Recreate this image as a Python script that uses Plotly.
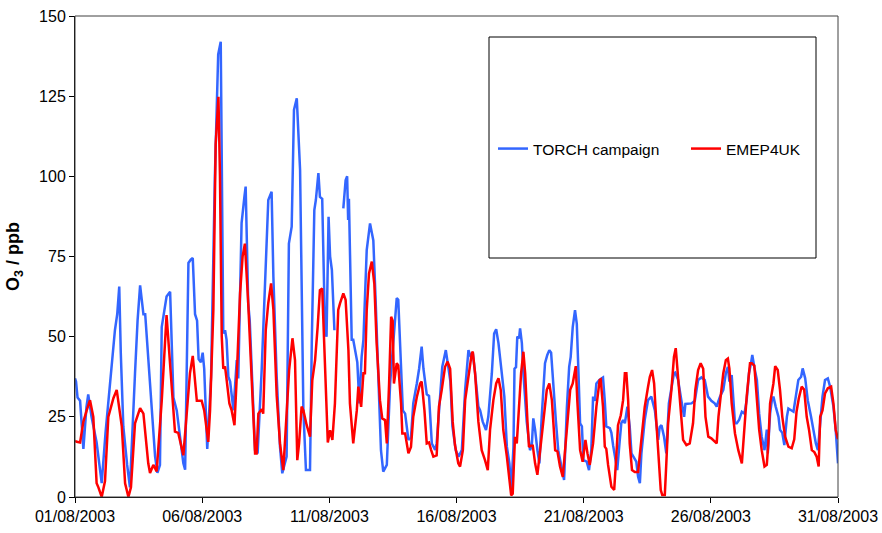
import pandas as pd
import plotly.graph_objects as go

START = pd.Timestamp("2003-08-01")

# Observed ozone (TORCH campaign): time in days since 01/08/2003 00:00, O3 in ppb.
# None marks a gap in the measurements.
torch_day = [
    0.00, 0.04, 0.10, 0.20, 0.33, 0.45, 0.52, 0.65, 0.85, 1.05, 1.20, 1.38, 1.57, 1.66, 1.74, 1.80,
    1.90, 2.05, 2.16, 2.36, 2.46, 2.56, 2.69, 2.76, 2.88, 3.02, 3.15, 3.24, 3.34, 3.41, 3.60, 3.74,
    3.87, 4.00, 4.26, 4.33, 4.46, 4.55, 4.63, 4.72, 4.80, 4.86, 4.95, 5.02, 5.08, 5.20, 5.35, 5.50,
    5.63, 5.73, 5.79, 5.83, 5.90, 5.96, 6.03, 6.10, 6.23, 6.36, 6.42, 6.55, 6.66, 6.71, 6.81, 6.87,
    7.08, 7.18, 7.34, 7.47, 7.60, 7.73, 7.80, 7.93, 8.06, 8.15, 8.32, 8.41, 8.52, 8.61, 8.72, 8.85,
    8.98, 9.08, 9.24, 9.31, 9.41, 9.47, 9.57, 9.63, 9.72, 9.83, 9.89, 9.97, 10.03, 10.10, 10.16, 10.20,
    None,
    10.55, 10.64, 10.70, 10.74, 10.77, 10.88, 10.94, 11.04, 11.10, 11.18, 11.27, 11.34, 11.47, 11.60,
    11.73, 11.82, 11.93, 12.03, 12.12, 12.26, 12.39, 12.52, 12.58, 12.65, 12.71, 12.78, 12.89, 12.98,
    13.11, 13.21, 13.30, 13.44, 13.53, 13.63, 13.70, 13.83, 13.92, 14.03, 14.16, 14.22, 14.35, 14.44,
    14.58, 14.68, 14.76, 14.84, 14.97, 15.08, 15.21, 15.34, 15.47, 15.56, 15.64, 15.73, 15.86, 15.93,
    16.03, 16.16, 16.25, 16.39, 16.48, 16.56, 16.65, 16.78, 16.88, 16.98, 17.08, 17.15, 17.24, 17.28,
    17.34, 17.39, 17.46, 17.50, 17.57, 17.63, 17.76, 17.89, 17.96, 18.02, 18.09, 18.18, 18.26, 18.35,
    18.48, 18.57, 18.65, 18.72, 18.81, 18.91, 19.00, 19.14, 19.23, 19.34, 19.43, 19.49, 19.57, 19.66,
    19.73, 19.79, 19.86, 19.93, 19.99, 20.12, 20.21, 20.30, 20.37, 20.44, 20.50, 20.63, 20.76, 20.83,
    20.89, 21.03, 21.09, 21.16, 21.25, 21.32, 21.42, 21.48, 21.55, 21.62, 21.72, 21.81, 21.88, 22.01,
    22.07, 22.14, 22.21, 22.27, 22.40, 22.53, 22.66, 22.80, 22.93, 22.99, 23.06, 23.16, 23.25, 23.35,
    23.45, 23.55, 23.60, 23.71, 23.84, 23.95, 24.00, 24.11, 24.24, 24.37, 24.50, 24.63, 24.76, 24.89,
    25.02, 25.15, 25.23, 25.30, 25.36, 25.49, 25.59, 25.67, 25.73, 25.82, 25.89, 25.95, 26.02, 26.11,
    26.22, 26.32, 26.41, 26.50, 26.58, 26.63, 26.71, 26.81, 26.90, 27.00, 27.11, 27.20, 27.24, 27.33,
    27.40, 27.46, 27.55, 27.66, 27.72, 27.81, 27.89, 27.99, 28.05, 28.16, 28.25, 28.34, 28.44, 28.55,
    28.61, 28.71, 28.81, 28.94, 29.03, 29.13, 29.21, 29.30, 29.39, 29.49, 29.60, 29.69, 29.82, 29.91,
    30.00,
]
torch_o3 = [
    37, 36, 31, 30, 15, 28, 32, 25, 17, 4.3, 20, 36.5, 52, 57, 65.6, 45,
    22, 10, 3, 38.6, 55, 66, 57, 57, 43.7, 27, 12.6, 7.5, 10, 53, 62.5, 64,
    31, 27, 10.5, 8.5, 73, 74, 74.5, 57, 55, 43, 42, 45, 40, 15, 37.5, 100,
    138, 142, 89.5, 51, 52, 49, 37.5, 36, 27, 42.7, 37, 85.4, 93.6, 96.8, 60.5, 55,
    14.6, 13.6, 39.6, 68.7, 92.6, 95.2, 68.7, 37.5, 15.7, 7.4, 12.6, 79, 84.3, 120.7, 124.3, 102,
    27, 8.4, 8.4, 48, 89.5, 92.6, 101, 93.6, 93, 52, 50, 87.4, 75, 70.8, 61.5, 52,
    None,
    90, 98.8, 100, 86.4, 93, 49, 49, 43.7, 42, 29.2, 43.7, 49, 77, 85.3,
    80, 61.4, 35.4, 14.6, 7.9, 10, 35.4, 50, 56, 62, 61.5, 46.7, 27, 26,
    17.8, 18.5, 29.2, 35.4, 40, 46.9, 40, 32, 31.5, 16.7, 14.7, 16.7, 29.2, 40.6,
    45.8, 39.7, 36, 22, 14.6, 12.6, 14.6, 33.4, 45.8, 43.7, 45, 38.6, 28.2, 27,
    23.5, 20.9, 25, 38.6, 51, 52.3, 48, 38.6, 31.4, 15.7, 10.5, 2.2, 15.6, 40,
    40.5, 50, 49.5, 52.6, 48, 38.6, 23.5, 14.6, 16, 24.5, 21, 14.6, 10.5, 25,
    41.7, 44.3, 45.8, 45, 33.4, 23.5, 14.6, 8.4, 5.3, 28, 40.6, 43.7, 53, 58.3,
    54, 40, 23, 22, 11.5, 11, 8.4, 14.6, 31.3, 30, 35.4, 36.6, 37.3, 30,
    22, 21.5, 20, 16, 11.5, 8.4, 17.8, 23, 24, 23, 28.2, 22, 13.6, 11.5,
    11, 6.3, 4.3, 13.6, 24, 30.2, 31.3, 27, 17.8, 21.8, 22.4, 18.8, 13.6, 29.2,
    33.4, 38.6, 38.8, 36.6, 30.2, 25, 29, 29, 29.2, 30, 36.5, 37.3, 36.5, 31.3,
    30, 29.2, 28.2, 30, 31.3, 33.4, 38.6, 40.6, 36, 38, 29.2, 23, 23, 24,
    26.6, 26, 30.2, 38.6, 41.7, 44.3, 40.5, 36.5, 26, 18.8, 14.6, 21, 13.6, 26,
    30.2, 31.3, 28.2, 25, 21, 20, 16.2, 25, 27.6, 27, 26.6, 31.3, 36.5, 37.5,
    40.1, 37, 30.2, 25, 21, 16.7, 14.6, 23, 31.3, 36.5, 37, 34.4, 28.2, 20.9,
    10.5,
]

# Modelled ozone (EMEP4UK): time in days since 01/08/2003 00:00, O3 in ppb.
emep_day = [
    0.00, 0.07, 0.20, 0.33, 0.46, 0.59, 0.72, 0.85, 0.92, 1.05, 1.18, 1.31, 1.51, 1.64, 1.84, 1.97,
    2.10, 2.20, 2.36, 2.56, 2.69, 2.88, 2.95, 3.08, 3.21, 3.41, 3.60, 3.80, 3.93, 4.06, 4.26, 4.52,
    4.63, 4.79, 4.98, 5.08, 5.24, 5.31, 5.44, 5.53, 5.64, 5.70, 5.77, 5.83, 5.90, 5.97, 6.07, 6.16,
    6.27, 6.36, 6.49, 6.59, 6.68, 6.81, 6.95, 7.08, 7.14, 7.21, 7.34, 7.40, 7.50, 7.60, 7.71, 7.80,
    7.93, 8.06, 8.19, 8.32, 8.42, 8.55, 8.65, 8.74, 8.81, 8.91, 8.98, 9.11, 9.24, 9.33, 9.44, 9.54,
    9.63, 9.72, 9.80, 9.87, 9.94, 10.03, 10.12, 10.22, 10.35, 10.42, 10.55, 10.64, 10.75, 10.81, 10.94,
    11.08, 11.14, 11.25, 11.34, 11.40, 11.47, 11.56, 11.67, 11.77, 11.86, 11.99, 12.08, 12.19, 12.26,
    12.35, 12.43, 12.49, 12.54, 12.65, 12.71, 12.82, 12.87, 12.98, 13.11, 13.21, 13.30, 13.44, 13.57,
    13.63, 13.74, 13.83, 13.92, 14.00, 14.09, 14.22, 14.31, 14.42, 14.55, 14.65, 14.75, 14.85, 14.94,
    15.07, 15.14, 15.25, 15.34, 15.47, 15.60, 15.64, 15.73, 15.86, 15.99, 16.12, 16.23, 16.32, 16.45,
    16.56, 16.65, 16.74, 16.84, 16.98, 17.08, 17.15, 17.21, 17.30, 17.37, 17.46, 17.54, 17.63, 17.70,
    17.79, 17.85, 17.92, 18.00, 18.09, 18.18, 18.29, 18.42, 18.55, 18.65, 18.75, 18.88, 18.97, 19.07,
    19.18, 19.27, 19.36, 19.47, 19.57, 19.69, 19.75, 19.86, 19.96, 20.07, 20.15, 20.24, 20.37, 20.50,
    20.63, 20.67, 20.76, 20.83, 20.89, 20.96, 21.09, 21.20, 21.29, 21.35, 21.46, 21.55, 21.62, 21.68,
    21.75, 21.81, 21.90, 22.01, 22.14, 22.31, 22.40, 22.53, 22.60, 22.69, 22.77, 22.86, 22.93, 23.03,
    23.09, 23.19, 23.25, 23.32, 23.45, 23.55, 23.62, 23.71, 23.82, 23.91, 24.04, 24.17, 24.30, 24.39,
    24.50, 24.60, 24.70, 24.79, 24.90, 25.02, 25.23, 25.30, 25.40, 25.49, 25.59, 25.67, 25.73, 25.82,
    25.95, 26.08, 26.22, 26.32, 26.41, 26.54, 26.61, 26.71, 26.81, 26.90, 27.00, 27.11, 27.20, 27.26,
    27.33, 27.46, 27.53, 27.63, 27.72, 27.81, 27.92, 28.05, 28.18, 28.28, 28.37, 28.46, 28.57, 28.67,
    28.77, 28.86, 28.97, 29.07, 29.16, 29.24, 29.30, 29.39, 29.49, 29.60, 29.73, 29.82, 29.91, 30.00,
]
emep_o3 = [
    17.5, 17.2, 17, 23.5, 27, 30.2, 25, 4.3, 3, 0, 5, 25, 30.8, 33.4, 22, 4.3,
    0, 3, 23, 27.7, 26, 10.5, 7.5, 10, 8, 30, 56.7, 35.5, 20.4, 20, 13, 38.6,
    44, 30, 30, 27, 17.2, 27, 58.3, 110, 124.8, 100, 50, 40, 40.7, 36, 29.2, 27,
    22.4, 37.5, 63.5, 75, 79, 60.6, 37.5, 13.6, 13.6, 26, 27.4, 26, 52, 60.5, 66.6, 58.5,
    31.6, 16.7, 8.4, 27, 39.6, 49.5, 42.7, 11.5, 16.7, 28.2, 27, 22.4, 18.8, 36.4, 42.7, 53,
    64.5, 65, 48, 27, 17, 20.8, 17.8, 29.2, 58.3, 60.4, 63.5, 61.5, 45.8, 29.2, 16.7,
    27, 34.4, 28.1, 38.6, 38.6, 58.3, 69.7, 73.4, 66.5, 48, 30.2, 24.5, 24, 16.7,
    35.4, 56.2, 55, 35.4, 41.7, 41, 29.2, 19.8, 19.8, 13.6, 15.6, 25, 31.2, 35.4,
    36, 27, 16.7, 17, 14.7, 12.6, 13, 28.2, 33.4, 40.6, 42.2, 40, 23.5, 16.2,
    10.5, 9.5, 14.6, 30.2, 37.5, 44.8, 45.3, 38.6, 23.5, 14.6, 11.5, 8.4, 21, 30.2,
    35.4, 37, 33.4, 20.9, 12.6, 4.3, 0.5, 1, 18.8, 16.7, 28.2, 38.6, 45.3, 38.6,
    23.5, 15.6, 16, 16, 10.5, 6.9, 14.6, 25, 33.4, 35.4, 30.2, 14.6, 14.2, 9.5,
    6.3, 14.6, 24, 33.4, 35.4, 40.8, 30, 14.6, 11, 17.8, 13.6, 10, 16.7, 28.2,
    36.5, 36.7, 28.2, 15.7, 15, 10, 3.2, 2.2, 13.6, 22.4, 25.5, 30.2, 38.6, 38.6,
    30, 16.7, 8.4, 7.8, 7.8, 19.8, 28, 34.3, 37.4, 39.6, 35.4, 23, 14.6, 2.2,
    0.6, 0.6, 10.5, 23, 33.4, 43.7, 46.4, 37.4, 25, 17.8, 16.2, 16.7, 23, 33.4,
    39.6, 41.7, 40, 25, 18.8, 18.3, 16.7, 25, 32.3, 38.6, 42.7, 43.2, 40, 29.2,
    19.8, 14.6, 10.5, 21, 31.3, 41.7, 41.7, 41, 31.3, 21, 14.6, 9.5, 10, 16.7,
    29.2, 35.4, 40.8, 39.6, 33.4, 25, 18.8, 15.7, 15.2, 18, 26.6, 30.8, 34.4, 33.5,
    25, 21, 14.6, 14, 12.6, 9.5, 25, 27, 32.3, 33.9, 34.4, 29.2, 20.9, 18,
]

x_ticks = ["2003-08-01", "2003-08-06", "2003-08-11", "2003-08-16", "2003-08-21", "2003-08-26", "2003-08-31"]
y_ticks = [0, 25, 50, 75, 100, 125, 150]


def to_time(days):
    return [None if d is None else START + pd.Timedelta(days=d) for d in days]


FONT = "Liberation Sans, Arial, sans-serif"

fig = go.Figure()
fig.add_trace(go.Scatter(
    x=to_time(torch_day), y=torch_o3, mode="lines", name="TORCH campaign",
    line=dict(color="#3366ff", width=2.5), connectgaps=False,
))
fig.add_trace(go.Scatter(
    x=to_time(emep_day), y=emep_o3, mode="lines", name="EMEP4UK",
    line=dict(color="#ff0000", width=2.5),
))

W, H = 882, 533
L, R, T, B = 75, 838, 16, 497


def px_x(p):
    return (p - L) / (R - L)


def px_y(p):
    return (B - p) / (B - T)


fig.update_layout(
    width=W, height=H,
    margin=dict(l=L, r=W - R, t=T, b=H - B, autoexpand=False),
    paper_bgcolor="white", plot_bgcolor="white",
    font=dict(family=FONT, size=15, color="black"),
    showlegend=True,
    legend=dict(
        orientation="h", x=px_x(493), y=px_y(149), xanchor="left", yanchor="middle",
        bgcolor="rgba(0,0,0,0)", borderwidth=0, font=dict(size=15.5),
        entrywidth=148, itemwidth=30,
    ),
    xaxis=dict(
        type="date", range=[x_ticks[0], x_ticks[-1]],
        tickvals=x_ticks, tickformat="%d/%m/%Y", automargin=False,
        ticks="outside", ticklen=5, tickcolor="black", tickwidth=1,
        showline=True, linecolor="black", linewidth=1,
        showgrid=False, zeroline=False, tickfont=dict(size=16),
    ),
    yaxis=dict(
        range=[0, 150], tickvals=y_ticks, automargin=False,
        ticks="outside", ticklen=5, tickcolor="black", tickwidth=1,
        showline=True, linecolor="black", linewidth=1,
        showgrid=False, zeroline=False, tickfont=dict(size=16),
        title=dict(text="<b>O<sub>3</sub> / ppb</b>", font=dict(size=18), standoff=14),
    ),
    shapes=[
        # plot-area frame
        dict(type="rect", xref="paper", yref="paper", x0=0, x1=1, y0=0, y1=1,
             line=dict(color="#404040", width=1), fillcolor="rgba(0,0,0,0)", layer="above"),
        # legend frame
        dict(type="rect", xref="paper", yref="paper",
             x0=px_x(489), x1=px_x(816), y0=px_y(258), y1=px_y(37),
             line=dict(color="black", width=1), fillcolor="white", layer="below"),
    ],
)

fig.write_html("out.html")
